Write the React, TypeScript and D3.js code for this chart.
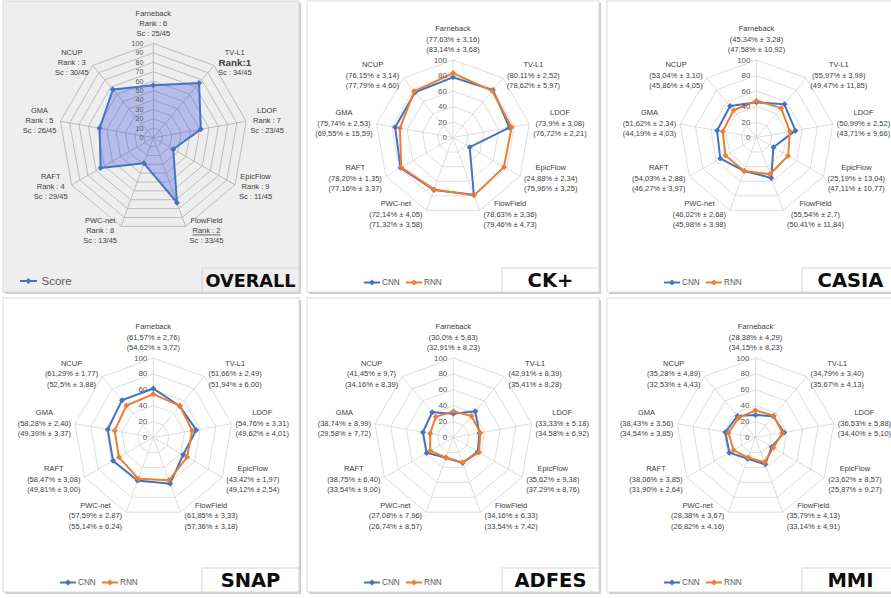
import React from "react";
import * as d3 from "d3";

// Optical-flow methods, clockwise from the top axis
const methods = ["Farneback", "TV-L1", "LDOF", "EpicFlow", "FlowField", "PWC-net", "RAFT", "GMA", "NCUP"];

// OVERALL ranking: rank and score (out of 45) per method
const overallRank = ["6", "1", "7", "9", "2", "8", "4", "5", "3"];
const overallScore = [25, 34, 23, 11, 33, 13, 29, 26, 30];
const scoreMax = 45;
const overallTicks = [0, 10, 20, 30, 40, 50, 60, 70, 80, 90, 100];
const datasetTicks = [0, 20, 40, 60, 80, 100];

// Accuracy per dataset: mean (%) and standard deviation, as printed
const ckCnnMean = ["77,63", "80,11", "73,9", "24,88", "78,63", "72,14", "78,20", "75,74", "76,15"];
const ckCnnStd = ["3,16", "2,52", "3,08", "2,34", "3,36", "4,05", "1,35", "2,53", "3,14"];
const ckRnnMean = ["83,14", "78,62", "76,72", "75,96", "79,46", "71,32", "77,16", "69,55", "77,79"];
const ckRnnStd = ["3,68", "5,97", "2,21", "3,25", "4,73", "3,58", "3,37", "15,59", "4,60"];

const casiaCnnMean = ["45,34", "55,97", "50,99", "25,19", "55,54", "46,02", "54,03", "51,62", "53,04"];
const casiaCnnStd = ["3,28", "3,99", "2,52", "13,04", "2,7", "2,68", "2,88", "2,34", "3,10"];
const casiaRnnMean = ["47,58", "49,47", "43,71", "47,11", "50,41", "45,98", "46,27", "44,19", "45,86"];
const casiaRnnStd = ["10,92", "11,85", "9,66", "10,77", "11,84", "3,98", "3,97", "4,03", "4,05"];

const snapCnnMean = ["61,57", "51,66", "54,76", "43,42", "61,85", "57,59", "58,47", "58,28", "61,29"];
const snapCnnStd = ["2,76", "2,49", "3,31", "1,97", "3,33", "2,87", "3,08", "2,40", "1,77"];
const snapRnnMean = ["54,62", "51,94", "49,62", "49,12", "57,36", "55,14", "49,81", "49,39", "52,5"];
const snapRnnStd = ["3,72", "6,00", "4,01", "2,54", "3,18", "6,24", "3,00", "3,37", "3,88"];

const adfesCnnMean = ["30,0", "42,91", "33,33", "35,62", "34,16", "27,08", "38,75", "38,74", "41,45"];
const adfesCnnStd = ["5,83", "8,39", "5,18", "9,38", "6,33", "7,96", "6,40", "8,99", "9,7"];
const adfesRnnMean = ["32,91", "35,41", "34,58", "37,29", "33,54", "26,74", "33,54", "29,58", "34,16"];
const adfesRnnStd = ["8,23", "8,28", "6,92", "8,76", "7,42", "8,57", "9,00", "7,72", "8,39"];

const mmiCnnMean = ["28,38", "34,79", "36,53", "23,62", "35,79", "28,38", "38,06", "38,43", "35,28"];
const mmiCnnStd = ["4,29", "3,40", "5,88", "8,57", "4,13", "3,67", "3,85", "3,56", "4,89"];
const mmiRnnMean = ["34,15", "35,67", "34,40", "25,87", "33,14", "26,82", "31,90", "34,54", "32,53"];
const mmiRnnStd = ["8,23", "4,13", "5,10", "9,27", "4,91", "4,16", "2,64", "3,85", "4,43"];

const BLUE = "#4472C4";
const ORANGE = "#ED7D31";
const FONT = '"Liberation Sans", Arial, sans-serif';
const TITLE_FONT = '"DejaVu Sans", Verdana, sans-serif';

const parseNum = (s: string) => parseFloat(s.replace(",", "."));

let measureCtx: CanvasRenderingContext2D | null = null;
function measure(text: string, size: number, bold?: boolean) {
  if (!measureCtx) measureCtx = document.createElement("canvas").getContext("2d");
  if (!measureCtx) return text.length * size * 0.5;
  measureCtx.font = `${bold ? "bold " : ""}${size}px "Liberation Sans"`;
  return measureCtx.measureText(text).width;
}

type LabelLine = { text: string; size: number; bold?: boolean; underline?: boolean };
type Series = { values: number[]; color: string; fill?: string; fillOpacity?: number };

type RadarProps = {
  cx: number;
  cy: number;
  R: number;
  ticks: number[];
  gridColor: string;
  tickSize: number;
  tickDx: number;
  series: Series[];
  labels: LabelLine[][];
  lineH: number;
};

function Radar({ cx, cy, R, ticks, gridColor, tickSize, tickDx, series, labels, lineH }: RadarProps) {
  const n = methods.length;
  const step = (2 * Math.PI) / n;
  const r = d3.scaleLinear().domain([0, 100]).range([0, R]);
  const radial = d3
    .lineRadial<number>()
    .angle((_, i) => i * step)
    .radius((d) => r(d))
    .curve(d3.curveLinearClosed);
  const diamond = d3.symbol().type(d3.symbolSquare).size(18)() || "";

  const blocks = labels.map((lines, i) => {
    const a = i * step;
    const vx = cx + R * Math.sin(a);
    const vy = cy - R * Math.cos(a);
    const h = lines.length * lineH;
    const w = Math.max(...lines.map((l) => measure(l.text, l.size, l.bold)));
    let bx: number;
    let by: number;
    if (i === 0) {
      bx = vx;
      by = vy - 5 - h / 2;
    } else {
      const s = Math.sin(a) > 0 ? 1 : -1;
      bx = vx + s * (w / 2 + 4);
      by = vy - Math.cos(a) * 4;
    }
    return { bx, by, h, lines, key: methods[i] };
  });

  return (
    <g>
      <g transform={`translate(${cx},${cy})`}>
        {ticks
          .filter((t) => t > 0)
          .map((t) => (
            <path
              key={`ring${t}`}
              d={radial(methods.map(() => t)) || ""}
              fill="none"
              stroke={gridColor}
              strokeWidth={0.8}
            />
          ))}
        {methods.map((m, i) => (
          <line
            key={`spoke${m}`}
            x1={0}
            y1={0}
            x2={r(100) * Math.sin(i * step)}
            y2={-r(100) * Math.cos(i * step)}
            stroke={gridColor}
            strokeWidth={0.8}
          />
        ))}
        {series.map((s, si) => (
          <g key={`series${si}`}>
            <path
              d={radial(s.values) || ""}
              fill={s.fill || "none"}
              fillOpacity={s.fillOpacity ?? 1}
              stroke={s.color}
              strokeWidth={2}
              strokeLinejoin="round"
            />
            {s.values.map((v, i) => (
              <path
                key={`m${i}`}
                d={diamond}
                fill={s.color}
                transform={`translate(${r(v) * Math.sin(i * step)},${-r(v) * Math.cos(i * step)}) rotate(45)`}
              />
            ))}
          </g>
        ))}
        {ticks.map((t) => (
          <text
            key={`tick${t}`}
            x={-tickDx}
            y={-r(t)}
            textAnchor="end"
            dominantBaseline="central"
            fontFamily={FONT}
            fontSize={tickSize}
            fill="#595959"
          >
            {t}
          </text>
        ))}
      </g>
      {blocks.map((b) => (
        <text key={b.key} textAnchor="middle" fontFamily={FONT} fill="#404040">
          {b.lines.map((l, k) => (
            <tspan
              key={k}
              x={b.bx}
              y={b.by - b.h / 2 + lineH * (k + 0.5)}
              dominantBaseline="central"
              fontSize={l.size}
              fontWeight={l.bold ? "bold" : "normal"}
              textDecoration={l.underline ? "underline" : undefined}
            >
              {l.text}
            </tspan>
          ))}
        </text>
      ))}
    </g>
  );
}

type PanelProps = {
  x: number;
  y: number;
  w: number;
  h: number;
  bg: string;
  title: string;
  titleSize: number;
  boxFill: string;
  children?: React.ReactNode;
};

function Panel({ x, y, w, h, bg, title, titleSize, boxFill, children }: PanelProps) {
  const bw = 97;
  const by = y + h - 24;
  return (
    <g>
      <rect x={x + 2} y={y + 2} width={w} height={h} fill="#cdcdcd" />
      <rect x={x} y={y} width={w} height={h} fill={bg} stroke="#dadada" strokeWidth={1} />
      {children}
      <rect x={x + w - bw} y={by} width={bw} height={y + h - by} fill={boxFill} stroke="#d6d6d6" strokeWidth={1} />
      <text
        x={x + w - bw / 2}
        y={by + 12.5}
        textAnchor="middle"
        dominantBaseline="central"
        fontFamily={TITLE_FONT}
        fontWeight="bold"
        fontSize={titleSize}
        fill="#0d0d0d"
      >
        {title}
      </text>
    </g>
  );
}

function DualLegend({ x, y }: { x: number; y: number }) {
  const diamond = d3.symbol().type(d3.symbolSquare).size(18)() || "";
  const items = [
    { name: "CNN", color: BLUE, x0: 57 },
    { name: "RNN", color: ORANGE, x0: 99 },
  ];
  return (
    <g>
      {items.map((it) => (
        <g key={it.name}>
          <line x1={x + it.x0} x2={x + it.x0 + 16} y1={y} y2={y} stroke={it.color} strokeWidth={2} />
          <path d={diamond} fill={it.color} transform={`translate(${x + it.x0 + 8},${y}) rotate(45)`} />
          <text
            x={x + it.x0 + 18}
            y={y}
            dominantBaseline="central"
            fontFamily={FONT}
            fontSize={8.2}
            fill="#595959"
          >
            {it.name}
          </text>
        </g>
      ))}
    </g>
  );
}

const datasetLabels = (cm: string[], cs: string[], rm: string[], rs: string[]): LabelLine[][] =>
  methods.map((m, i) => [
    { text: m, size: 7.5 },
    { text: `(${cm[i]}% ± ${cs[i]})`, size: 7.5 },
    { text: `(${rm[i]}% ± ${rs[i]})`, size: 7.5 },
  ]);

const overallLabels: LabelLine[][] = methods.map((m, i) => [
  { text: m, size: 7.5 },
  overallRank[i] === "1"
    ? { text: `Rank:${overallRank[i]}`, size: 9.8, bold: true }
    : { text: `Rank : ${overallRank[i]}`, size: 7.5, underline: overallRank[i] === "2" },
  { text: `Sc : ${overallScore[i]}/${scoreMax}`, size: 7.5 },
]);

type DatasetDef = {
  title: string;
  px: number;
  py: number;
  pw: number;
  cx: number;
  cy: number;
  R: number;
  cm: string[];
  cs: string[];
  rm: string[];
  rs: string[];
};

const datasets: DatasetDef[] = [
  { title: "CK+", px: 307, py: 1, pw: 292, cx: 453, cy: 137.5, R: 77.5, cm: ckCnnMean, cs: ckCnnStd, rm: ckRnnMean, rs: ckRnnStd },
  { title: "CASIA", px: 607, py: 1, pw: 292, cx: 756.5, cy: 137.5, R: 77.5, cm: casiaCnnMean, cs: casiaCnnStd, rm: casiaRnnMean, rs: casiaRnnStd },
  { title: "SNAP", px: 3, py: 298, pw: 296, cx: 153.3, cy: 437.5, R: 79.5, cm: snapCnnMean, cs: snapCnnStd, rm: snapRnnMean, rs: snapRnnStd },
  { title: "ADFES", px: 307, py: 298, pw: 292, cx: 453.3, cy: 437.5, R: 79.5, cm: adfesCnnMean, cs: adfesCnnStd, rm: adfesRnnMean, rs: adfesRnnStd },
  { title: "MMI", px: 607, py: 298, pw: 292, cx: 755.5, cy: 437.5, R: 79.5, cm: mmiCnnMean, cs: mmiCnnStd, rm: mmiRnnMean, rs: mmiRnnStd },
];

export default function App() {
  const scoreDiamond = d3.symbol().type(d3.symbolSquare).size(18)() || "";
  const overallValues = overallScore.map((s) => (s / scoreMax) * 100);
  return (
    <svg
      width={891}
      height={598}
      style={{ position: "absolute", left: 0, top: 0, background: "#ffffff" }}
    >
      <rect x={0} y={0} width={891} height={598} fill="#ffffff" />
      <Panel x={3} y={1} w={296} h={291} bg="#eeeeee" title="OVERALL" titleSize={17.7} boxFill="#eeeeee">
        <Radar
          cx={153.3}
          cy={137.7}
          R={94.3}
          ticks={overallTicks}
          gridColor="#aeaeae"
          tickSize={7}
          tickDx={10}
          lineH={10}
          series={[{ values: overallValues, color: BLUE, fill: "#4a5fe0", fillOpacity: 0.35 }]}
          labels={overallLabels}
        />
        <line x1={20} x2={37} y1={281} y2={281} stroke={BLUE} strokeWidth={2} />
        <path d={scoreDiamond} fill={BLUE} transform="translate(28.5,281) rotate(45)" />
        <text x={41.5} y={281} dominantBaseline="central" fontFamily={FONT} fontSize={11.5} fill="#595959">
          Score
        </text>
      </Panel>
      {datasets.map((d) => {
        const h = d.py === 1 ? 291 : 294;
        return (
          <Panel key={d.title} x={d.px} y={d.py} w={d.pw} h={h} bg="#ffffff" title={d.title} titleSize={19.5} boxFill="#ffffff">
            <Radar
              cx={d.cx}
              cy={d.cy}
              R={d.R}
              ticks={datasetTicks}
              gridColor="#d4d4d4"
              tickSize={8}
              tickDx={6}
              lineH={10.5}
              series={[
                { values: d.cm.map(parseNum), color: BLUE },
                { values: d.rm.map(parseNum), color: ORANGE },
              ]}
              labels={datasetLabels(d.cm, d.cs, d.rm, d.rs)}
            />
            <DualLegend x={d.px} y={d.py + h - 9.5} />
          </Panel>
        );
      })}
    </svg>
  );
}
